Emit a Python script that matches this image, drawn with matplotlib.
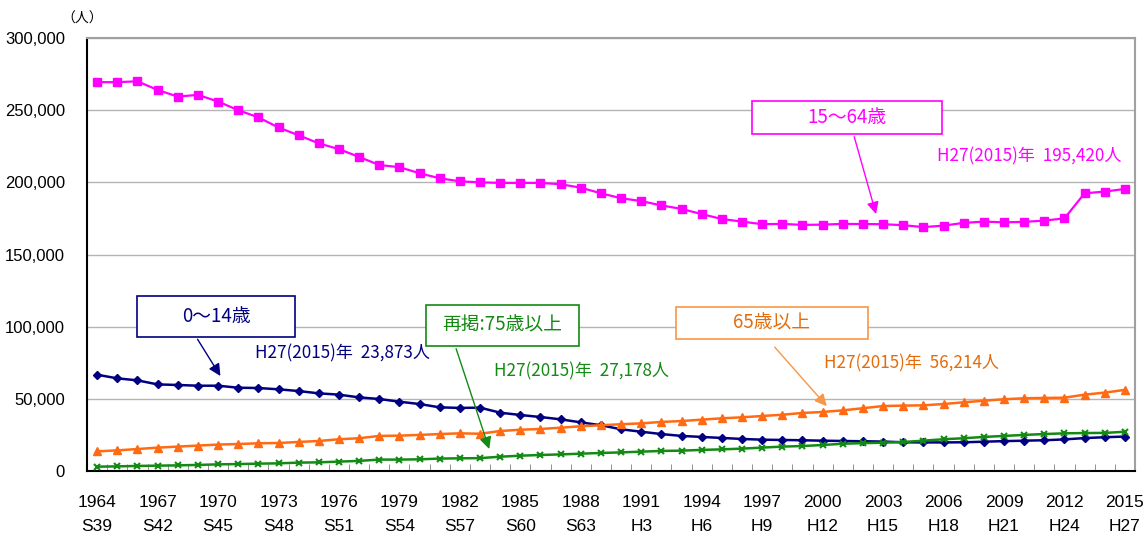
import matplotlib.pyplot as plt
from matplotlib.patches import Rectangle
from matplotlib.ticker import FuncFormatter, FixedLocator

# -------------------------
# Data
# -------------------------
years = list(range(1964, 2016))
eras = (["S%d" % (y - 1925) for y in range(1964, 1989)]
        + ["H%d" % (y - 1988) for y in range(1989, 2016)])

age_15_64 = [269400, 269400, 270000, 264000, 259400, 260600, 256000, 250000,
             245000, 238000, 232600, 227000, 223000, 217600, 212000, 210500,
             206300, 202800, 200700, 200000, 199600, 199600, 199600, 198700,
             196300, 192400, 189000, 187000, 184000, 181600, 178000, 174600,
             172800, 171000, 171200, 170500, 170700, 171200, 171100, 171000,
             170300, 169000, 170000, 171900, 172800, 172300, 172600, 173500,
             175000, 192400, 193600, 195420]

age_0_14 = [66700, 64200, 62800, 60000, 59600, 59100, 59100, 57700,
            57500, 56600, 55400, 53800, 52900, 51000, 49900, 48000,
            46400, 44100, 43700, 43900, 40400, 38800, 37400, 35800,
            33700, 31700, 28900, 27200, 25600, 24300, 23600, 22900,
            22200, 21700, 21500, 21300, 21000, 20800, 20600, 20400,
            19900, 19800, 19800, 19900, 20300, 20700, 21000, 21300,
            21900, 22800, 23400, 23873]

age_65_over = [13600, 14300, 15200, 16200, 16900, 17600, 18300, 18700,
               19200, 19400, 20100, 20800, 22000, 22700, 24300, 24500,
               25000, 25600, 26100, 25800, 27700, 28600, 29100, 30000,
               31000, 31700, 32400, 33000, 34000, 34600, 35600, 36500,
               37200, 38100, 39000, 40200, 40900, 42000, 43500, 45000,
               45300, 45500, 46400, 47600, 48700, 49700, 50400, 50600,
               50800, 52900, 54300, 56214]

age_75_over = [3000, 3200, 3500, 3700, 3900, 4200, 4600, 4800,
               5100, 5300, 5800, 6000, 6500, 7000, 7900, 7900,
               8100, 8600, 8800, 8900, 9900, 10600, 11100, 11500,
               12000, 12500, 12900, 13400, 13900, 14100, 14600, 15000,
               15500, 16200, 16900, 17300, 18000, 18900, 19300, 19600,
               20100, 21000, 22000, 22700, 23600, 24300, 25000, 25600,
               26100, 26300, 26400, 27178]

PINK = "#FF00FF"
NAVY = "#000080"
ORANGE = "#FF6A13"
GREEN = "#138A13"
CJK = ["Noto Sans CJK JP", "DejaVu Sans"]

fig = plt.figure(figsize=(11.47, 5.43), dpi=100)
ax = fig.add_axes([0.0759, 0.1326, 0.9136, 0.7974])

ax.plot(years, age_15_64, color=PINK, lw=1.6, marker="s", ms=5.2, zorder=4)
ax.plot(years, age_0_14, color=NAVY, lw=1.8, marker="D", ms=4, zorder=4)
ax.plot(years, age_65_over, color=ORANGE, lw=1.8, marker="^", ms=6, zorder=4)
ax.plot(years, age_75_over, color=GREEN, lw=1.8, marker="x", ms=5,
        mew=1.5, zorder=4)

ax.set_xlim(1963.5, 2015.5)
ax.set_ylim(0, 300000)
ax.set_yticks(range(0, 300001, 50000))
ax.yaxis.set_major_formatter(FuncFormatter(lambda v, p: f"{int(v):,}"))
ax.grid(axis="y", color="#b4b4b4", lw=1.0)
ax.set_axisbelow(True)

# x labels: every 3rd year with era name below
ax.set_xticks(years[::3])
ax.set_xticklabels([f"{y}\n{e}" for y, e in zip(years[::3], eras[::3])],
                   family=["Liberation Sans Narrow", "Liberation Sans"],
                   fontsize=12.5, linespacing=1.75)
ax.tick_params(axis="x", which="major", length=0, pad=17)
ax.xaxis.set_minor_locator(FixedLocator([y + 0.5 for y in years[:-1]]))
ax.tick_params(axis="x", which="minor", direction="in", length=5,
               color="#808080")
ax.tick_params(axis="y", length=0, pad=16, labelsize=12)
for lab in ax.get_yticklabels():
    lab.set_family(["Liberation Sans", "DejaVu Sans"])

for s in ["top", "right"]:
    ax.spines[s].set_color("#a0a0a0")
    ax.spines[s].set_linewidth(1.5)
for s in ["left", "bottom"]:
    ax.spines[s].set_color("black")
    ax.spines[s].set_linewidth(1.5)

fig.text(0.072, 0.965, "（人）", family=CJK, fontsize=10, ha="center",
         va="center")


def label_box(x0, x1, y0, y1, text, color, edge, start, tip):
    ax.add_patch(Rectangle((x0, y0), x1 - x0, y1 - y0, facecolor="white",
                           edgecolor=edge, lw=1.2, zorder=5))
    ax.text((x0 + x1) / 2, (y0 + y1) / 2, text, color=color, family=CJK,
            fontsize=13.5, ha="center", va="center", zorder=6)
    ax.annotate("", xy=tip, xytext=start, zorder=6,
                arrowprops=dict(arrowstyle="-|>", color=edge, lw=1.0,
                                mutation_scale=18))


label_box(1996.52, 2005.92, 233500, 256400, "15～64歳", PINK, PINK,
          (2001.53, 233500), (2002.69, 176200))
label_box(1966.0, 1973.83, 93100, 121300, "0～14歳", NAVY, NAVY,
          (1968.91, 92900), (1970.19, 64200))
label_box(1980.31, 1987.89, 86800, 115000, "再掲:75歳以上", GREEN, GREEN,
          (1981.77, 86600), (1983.5, 13400))
label_box(1992.72, 2002.25, 91300, 113400, "65歳以上", "#E46C0A", "#F79646",
          (1997.53, 87300), (2000.3, 43500))

ax.text(2005.7, 218300, f"H27(2015)年  {age_15_64[-1]:,}人", color=PINK,
        family=CJK, fontsize=12.3, va="center")
ax.text(1971.84, 81600, f"H27(2015)年  {age_0_14[-1]:,}人", color=NAVY,
        family=CJK, fontsize=12.3, va="center")
ax.text(1983.67, 69300, f"H27(2015)年  {age_75_over[-1]:,}人", color=GREEN,
        family=CJK, fontsize=12.3, va="center")
ax.text(2000.09, 74600, f"H27(2015)年  {age_65_over[-1]:,}人",
        color="#E46C0A", family=CJK, fontsize=12.3, va="center")

fig.savefig("out.png", dpi=100)
